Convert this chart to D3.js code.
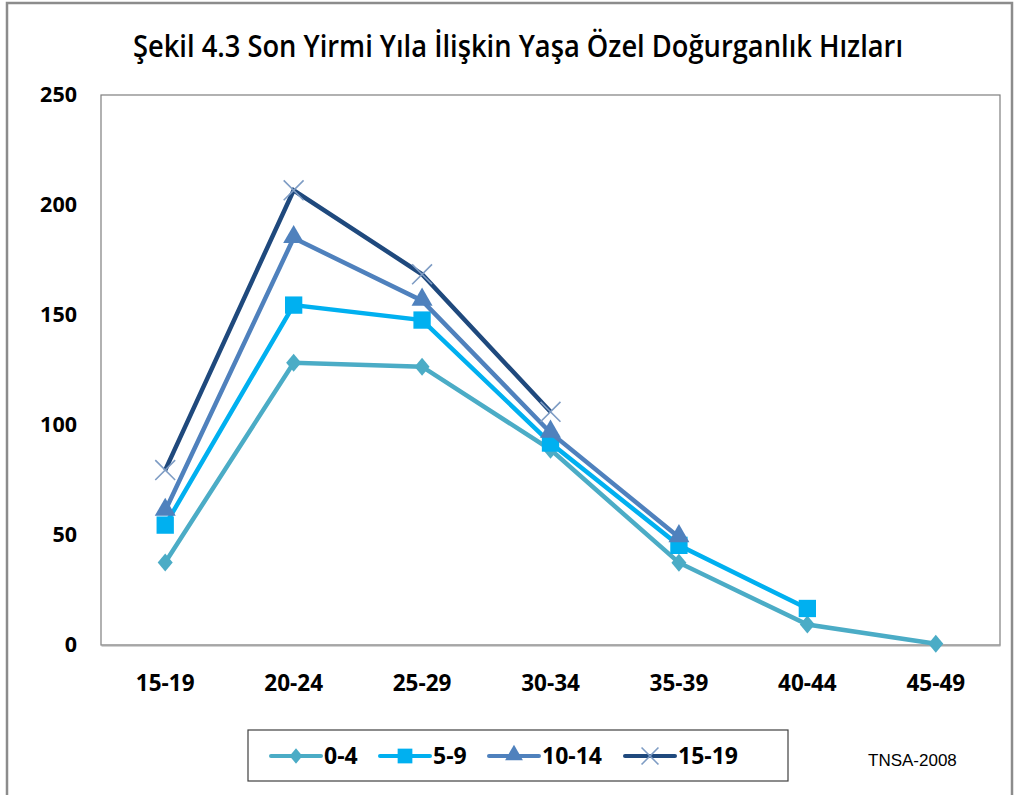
<!DOCTYPE html>
<html>
<head>
<meta charset="utf-8">
<script src="https://cdn.jsdelivr.net/npm/d3@7"></script>
<style>
  body { margin: 0; background: #fff; }
  svg { display: block; }
  .lbl { font-family: "Open Sans", "DejaVu Sans", sans-serif; font-weight: bold; fill: #000; }
</style>
</head>
<body>
<svg id="chart" width="1015" height="795"></svg>
<script>
const ageGroups = ["15-19", "20-24", "25-29", "30-34", "35-39", "40-44", "45-49"];
const seriesNames = ["0-4", "5-9", "10-14", "15-19"];
const rates0to4 = [37.5, 128.3, 126.5, 88.8, 37.4, 9.3, 0.6];
const rates5to9 = [54.5, 154.5, 147.7, 91.8, 45.3, 16.6, null];
const rates10to14 = [61, 185, 156.5, 96.5, 49, null, null];
const rates15to19 = [79.5, 206.7, 168.5, 106, null, null, null];
const yTicks = [0, 50, 100, 150, 200, 250];

const colors = ["#4BACC6", "#00B0F0", "#4F81BD", "#1F497D"];
const markers = ["diamond", "square", "triangle", "cross"];
const allRates = [rates0to4, rates5to9, rates10to14, rates15to19];

const series = seriesNames.map((name, i) => ({
  name: name,
  color: colors[i],
  marker: markers[i],
  points: ageGroups.map((g, j) => ({ group: g, value: allRates[i][j] }))
    .filter(p => p.value != null)
}));

const svg = d3.select("#chart");

// outer frame
svg.append("rect")
  .attr("x", 7).attr("y", 3).attr("width", 1005).attr("height", 810)
  .attr("fill", "none").attr("stroke", "#8c8c8c").attr("stroke-width", 2.5);

svg.append("text")
  .attr("class", "lbl")
  .attr("x", 518).attr("y", 57)
  .attr("text-anchor", "middle")
  .attr("font-size", 30)
  .style("font-weight", "600")
  .attr("textLength", 770)
  .attr("lengthAdjust", "spacingAndGlyphs")
  .text("Şekil 4.3 Son Yirmi Yıla İlişkin Yaşa Özel Doğurganlık Hızları");

const plot = { left: 101, top: 95, right: 1000, bottom: 645 };

let x = d3.scaleBand()
  .domain(ageGroups)
  .range([plot.left, plot.right]);

let y = d3.scaleLinear()
  .domain([0, 250])
  .range([plot.bottom, plot.top]);

// plot area
svg.append("rect")
  .attr("x", plot.left).attr("y", plot.top)
  .attr("width", plot.right - plot.left).attr("height", plot.bottom - plot.top)
  .attr("fill", "#fff").attr("stroke", "#7f7f7f").attr("stroke-width", 1.2);

// y axis labels
let yAxis = svg.append("g")
  .attr("transform", `translate(${plot.left},0)`)
  .call(d3.axisLeft(y).tickValues(yTicks).tickSize(0).tickPadding(24));
yAxis.select(".domain").remove();
yAxis.selectAll("text")
  .attr("class", "lbl")
  .attr("font-size", 21.5)
  .attr("dy", "0.3em");

// x axis labels
let xAxis = svg.append("g")
  .attr("transform", `translate(0,${plot.bottom})`)
  .call(d3.axisBottom(x).tickSize(0).tickPadding(30));
xAxis.select(".domain")
  .attr("stroke", "#a6a6a6").attr("stroke-width", 2);
xAxis.selectAll("text")
  .attr("class", "lbl")
  .attr("font-size", 22.5);

const cx = d => x(d.group) + x.bandwidth() / 2;

let line = d3.line()
  .x(cx)
  .y(d => y(d.value));

function drawMarker(g, type, color, k) {
  if (type === "diamond") {
    g.append("path")
      .attr("d", `M0,${-9 * k}L${7.5 * k},0L0,${9 * k}L${-7.5 * k},0Z`)
      .attr("fill", color);
  } else if (type === "square") {
    g.append("path").attr("d", d3.symbol(d3.symbolSquare, 300 * k * k)()).attr("fill", color);
  } else if (type === "triangle") {
    g.append("path").attr("d", d3.symbol(d3.symbolTriangle, 190 * k * k)())
      .attr("fill", color).attr("transform", "translate(0,-1)");
  } else {
    g.append("path").attr("d", d3.symbol(d3.symbolTimes, 260 * k * k)())
      .attr("fill", "none").attr("stroke", "#7e9cc4").attr("stroke-width", 1.6);
  }
}

let groups = svg.selectAll(".series")
  .data(series)
  .enter()
  .append("g")
  .attr("class", "series");

groups.append("path")
  .attr("d", d => line(d.points))
  .attr("fill", "none")
  .attr("stroke", d => d.color)
  .attr("stroke-width", 4.5)
  .attr("stroke-linejoin", "miter");

groups.each(function (s) {
  d3.select(this).selectAll(".mk")
    .data(s.points)
    .enter()
    .append("g")
    .attr("class", "mk")
    .attr("transform", d => `translate(${cx(d)},${y(d.value)})`)
    .each(function () { drawMarker(d3.select(this), s.marker, s.color, 1); });
});

// legend
let legend = svg.append("g");
legend.append("rect")
  .attr("x", 248).attr("y", 730).attr("width", 540).attr("height", 51)
  .attr("fill", "#fff").attr("stroke", "#404040").attr("stroke-width", 1.2);

const legendX = [271, 380, 489, 625];
series.forEach((s, i) => {
  let lg = legend.append("g").attr("transform", `translate(${legendX[i]},756)`);
  lg.append("line")
    .attr("x1", 0).attr("x2", 50).attr("y1", 0).attr("y2", 0)
    .attr("stroke", s.color).attr("stroke-width", 4).attr("stroke-linecap", "round");
  let m = lg.append("g").attr("transform", "translate(25,0)");
  drawMarker(m, s.marker, s.color, 0.85);
  lg.append("text")
    .attr("class", "lbl")
    .attr("x", 53).attr("y", 0).attr("dy", "0.36em")
    .attr("font-size", 23)
    .text(s.name);
});

svg.append("text")
  .attr("x", 868).attr("y", 766)
  .attr("font-family", "Liberation Sans, Arial, sans-serif")
  .attr("font-size", 17)
  .attr("fill", "#000")
  .text("TNSA-2008");
</script>
</body>
</html>
